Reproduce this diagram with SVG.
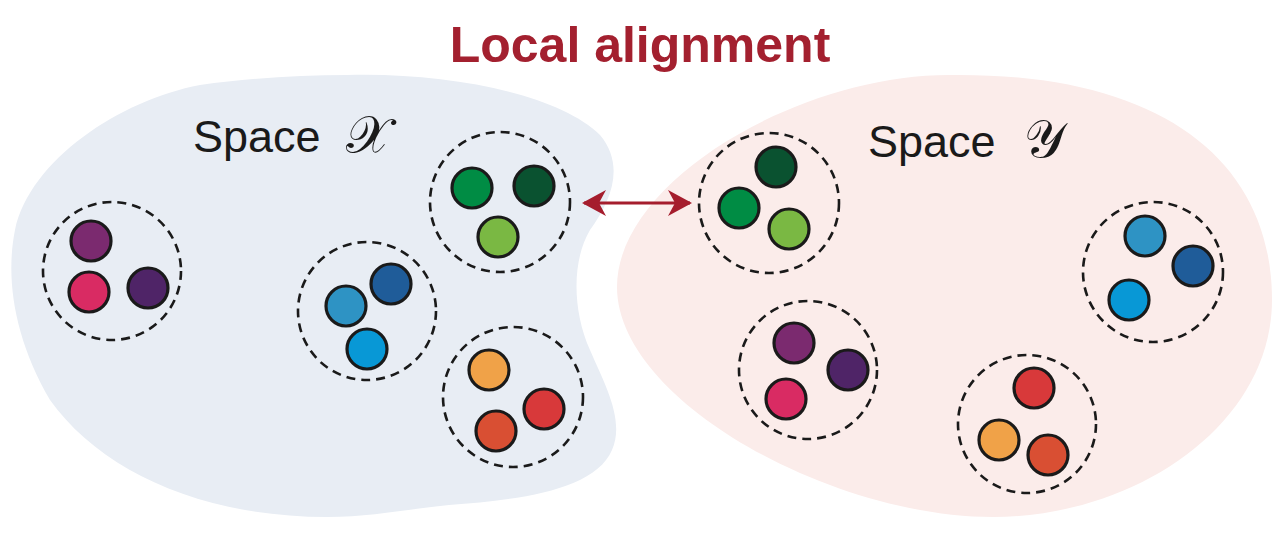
<svg xmlns="http://www.w3.org/2000/svg" width="1286" height="548" viewBox="0 0 1286 548">
<defs>
<style>
.dash{fill:none;stroke:#1a1a1a;stroke-width:2.6;stroke-dasharray:9 6}
.dot{stroke:#1a1a1a;stroke-width:3.2}
.lbl{font-family:"Liberation Sans",Arial,sans-serif;font-size:45px;fill:#1a1a1a}
.math{font-family:"DejaVu Serif","Liberation Serif",serif;font-size:52px;fill:#1a1a1a}
</style>
<marker id="ah" viewBox="0 0 24 26" refX="22" refY="13" markerWidth="24" markerHeight="26" markerUnits="userSpaceOnUse" orient="auto-start-reverse">
<path d="M0,0 L24,13 L0,26 L7,13 Z" fill="#a51d2d"/>
</marker>
</defs>
<rect width="1286" height="548" fill="#ffffff"/>
<g id="spaceX">
<path d="M 347,75 C 450,72 560,95 600,135 C 625,165 612,200 590,230 C 572,260 572,310 590,350 C 605,385 625,420 612,450 C 595,490 520,500 449,505 C 400,510 370,517 327,517 C 200,517 100,470 50,400 C 15,340 5,280 15,230 C 30,160 120,100 200,85 C 250,78 300,75 347,75 Z" fill="#e8edf4"/>
<text class="lbl" x="193" y="152">Space</text>
<text class="math" x="346" y="153">𝒳</text>
</g>
<g id="spaceY">
<path d="M 949,75 C 1160,72 1272,160 1272,300 C 1272,425 1135,517 993,517 C 830,517 617,400 617,287 C 617,180 800,75 949,75 Z" fill="#fbecea"/>
<text class="lbl" x="868" y="157">Space</text>
<text class="math" x="1024" y="157">𝒴</text>
</g>
<text id="title" x="640" y="62" text-anchor="middle" font-family="'Liberation Sans',Arial,sans-serif" font-weight="bold" font-size="50" fill="#a3202f">Local alignment</text>
<g id="x1"><circle class="dash" cx="112" cy="271" r="69"/>
<circle class="dot" cx="91" cy="241" r="20" fill="#7b2a6f"/><circle class="dot" cx="89" cy="292" r="20" fill="#d92b63"/><circle class="dot" cx="148" cy="288" r="20" fill="#4f2467"/></g>
<g id="x2"><circle class="dash" cx="367" cy="311" r="69"/>
<circle class="dot" cx="346" cy="306" r="20" fill="#2e93c4"/><circle class="dot" cx="391" cy="284" r="20" fill="#1f5c99"/><circle class="dot" cx="367" cy="349" r="20" fill="#0898d6"/></g>
<g id="x3"><circle class="dash" cx="500" cy="202" r="70"/>
<circle class="dot" cx="472" cy="188" r="20" fill="#008c44"/><circle class="dot" cx="534" cy="186" r="20" fill="#0a5230"/><circle class="dot" cx="498" cy="237" r="20" fill="#7ab843"/></g>
<g id="x4"><circle class="dash" cx="513" cy="397" r="70"/>
<circle class="dot" cx="489" cy="370" r="20" fill="#f0a248"/><circle class="dot" cx="544" cy="409" r="20" fill="#d8393a"/><circle class="dot" cx="496" cy="431" r="20" fill="#d94f33"/></g>
<g id="y1"><circle class="dash" cx="769" cy="203" r="70"/>
<circle class="dot" cx="776" cy="167" r="20" fill="#0a5230"/><circle class="dot" cx="739" cy="208" r="20" fill="#008c44"/><circle class="dot" cx="789" cy="229" r="20" fill="#7ab843"/></g>
<g id="y2"><circle class="dash" cx="1153" cy="272" r="70"/>
<circle class="dot" cx="1145" cy="236" r="20" fill="#2e93c4"/><circle class="dot" cx="1193" cy="266" r="20" fill="#1f5c99"/><circle class="dot" cx="1129" cy="300" r="20" fill="#0898d6"/></g>
<g id="y3"><circle class="dash" cx="808" cy="370" r="69"/>
<circle class="dot" cx="794" cy="343" r="20" fill="#7b2a6f"/><circle class="dot" cx="848" cy="370" r="20" fill="#4f2467"/><circle class="dot" cx="786" cy="399" r="20" fill="#d92b63"/></g>
<g id="y4"><circle class="dash" cx="1027" cy="424" r="69"/>
<circle class="dot" cx="1034" cy="388" r="20" fill="#d8393a"/><circle class="dot" cx="999" cy="440" r="20" fill="#f0a248"/><circle class="dot" cx="1048" cy="455" r="20" fill="#d94f33"/></g>
<g id="connectors">
<line x1="584" y1="203" x2="690" y2="203" stroke="#a51d2d" stroke-width="3" marker-start="url(#ah)" marker-end="url(#ah)"/>
</g>
</svg>
